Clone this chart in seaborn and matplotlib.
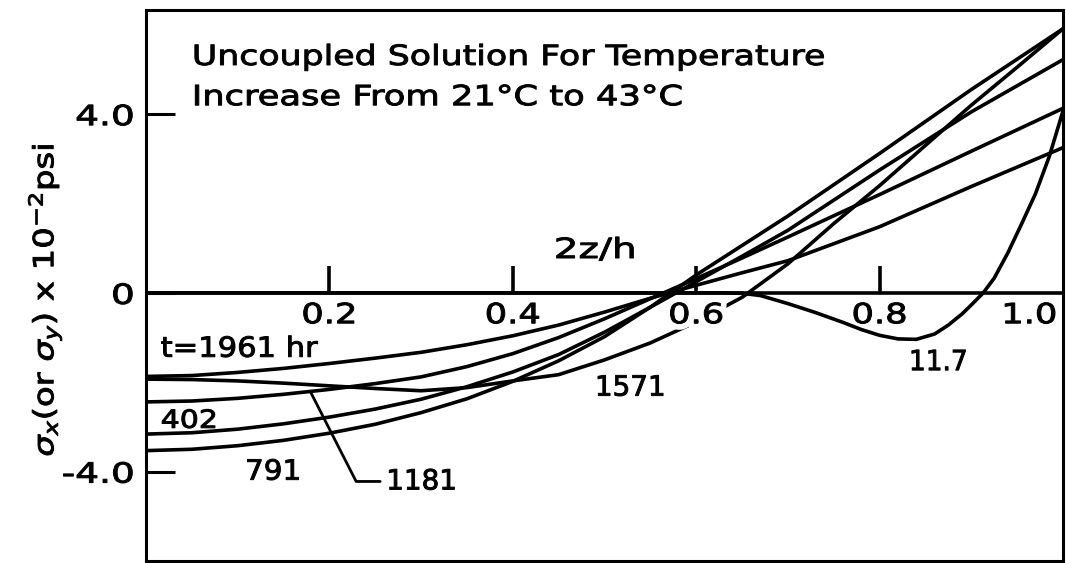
import matplotlib
matplotlib.use("Agg")
import matplotlib.pyplot as plt
import numpy as np
import pandas as pd
import seaborn as sns
from matplotlib import patheffects
from matplotlib.text import Text
from matplotlib.transforms import Affine2D

# Through-thickness stress profiles, sigma_x (x 10^-2 psi) vs 2z/h
z_11_7 = [0.0, 0.63, 0.65, 0.67, 0.70, 0.73, 0.76, 0.78, 0.80, 0.82, 0.84, 0.86, 0.875,
          0.89, 0.90, 0.913, 0.925, 0.94, 0.955, 0.97, 0.985, 1.0]
s_11_7 = [0.0, 0.0, -0.01, -0.06, -0.24, -0.44, -0.66, -0.82, -0.95, -1.03, -1.04, -0.92, -0.72,
          -0.47, -0.27, 0.0, 0.33, 0.90, 1.55, 2.22, 3.05, 4.07]

z_grid = [0.0, 0.05, 0.10, 0.15, 0.20, 0.25, 0.30, 0.35, 0.40, 0.45, 0.50, 0.55, 0.60, 0.65, 0.70, 0.80, 0.90, 1.0]
s_402 = [-3.16, -3.13, -3.05, -2.93, -2.78, -2.60, -2.38, -2.10, -1.77, -1.38, -0.88, -0.32, 0.25, 0.82, 1.40, 2.75, 4.05, 5.22]
s_791 = [-3.53, -3.50, -3.42, -3.30, -3.14, -2.94, -2.68, -2.37, -1.98, -1.52, -0.98, -0.32, 0.40, 1.06, 1.72, 3.12, 4.55, 5.91]
s_1181 = [-2.44, -2.42, -2.36, -2.27, -2.16, -2.03, -1.88, -1.65, -1.36, -1.00, -0.58, -0.13, 0.32, 0.78, 1.25, 2.20, 3.17, 4.13]
s_1961 = [-1.87, -1.85, -1.78, -1.69, -1.58, -1.46, -1.33, -1.16, -0.96, -0.72, -0.43, -0.12, 0.17, 0.45, 0.72, 1.48, 2.38, 3.25]

z_1571 = [0.0, 0.05, 0.10, 0.15, 0.20, 0.25, 0.30, 0.35, 0.40, 0.45, 0.50, 0.55, 0.60, 0.65, 0.70, 0.75, 0.80, 0.85, 0.90, 0.95, 1.0]
s_1571 = [-1.93, -1.94, -1.97, -2.02, -2.08, -2.14, -2.19, -2.12, -1.97, -1.83, -1.50, -1.12, -0.65, -0.10, 0.65, 1.55, 2.40, 3.30, 4.20, 5.05, 5.91]

curves = [
    ("11.7", z_11_7, s_11_7),
    ("402", z_grid, s_402),
    ("791", z_grid, s_791),
    ("1181", z_grid, s_1181),
    ("1571", z_1571, s_1571),
    ("1961", z_grid, s_1961),
]

xtick_vals = [0.2, 0.4, 0.6, 0.8, 1.0]
xtick_labels = ["0.2", "0.4", "0.6", "0.8", "1.0"]
ytick_vals = [-4.0, 0.0, 4.0]
ytick_labels = ["-4.0", "0", "4.0"]

df = pd.concat(
    [pd.DataFrame({"z": z, "sigma": s, "t": name}) for name, z, s in curves],
    ignore_index=True,
)


class Widen(patheffects.AbstractPathEffect):
    """Stretch a text's glyphs along its baseline and thicken their strokes
    (wide lettering-guide type), optionally with a white halo that knocks
    out the lines behind it."""

    def __init__(self, text, factor, halo=None, weight=0.7):
        super().__init__()
        self._text = text
        self._factor = factor
        self._halo = halo
        self._weight = weight

    def draw_path(self, renderer, gc, tpath, affine, rgbFace=None):
        bb = Text.get_window_extent(self._text, renderer)
        if self._text.get_rotation() % 180 == 0:
            ha = self._text.get_horizontalalignment()
            cx = {"left": bb.x0, "right": bb.x1}.get(ha, 0.5 * (bb.x0 + bb.x1))
            stretch = Affine2D().translate(-cx, 0).scale(self._factor, 1).translate(cx, 0)
        else:
            cy = 0.5 * (bb.y0 + bb.y1)
            stretch = Affine2D().translate(0, -cy).scale(1, self._factor).translate(0, cy)
        tr = affine + stretch
        if self._halo:
            gc0 = renderer.new_gc()
            gc0.copy_properties(gc)
            gc0.set_foreground("white")
            gc0.set_linewidth(self._halo)
            renderer.draw_path(gc0, tpath, tr, (1, 1, 1))
            gc0.restore()
        gc1 = renderer.new_gc()
        gc1.copy_properties(gc)
        gc1.set_foreground(rgbFace if rgbFace is not None else "black")
        gc1.set_linewidth(self._weight)
        renderer.draw_path(gc1, tpath, tr, rgbFace)
        gc1.restore()


def widen(text, factor, halo=None):
    text.set_path_effects([Widen(text, factor, halo)])
    return text


sns.set_theme(style="white")
plt.rcParams["font.family"] = ["DejaVu Sans"]
plt.rcParams["mathtext.fontset"] = "dejavusans"
for key in ("text.color", "axes.labelcolor", "xtick.color", "ytick.color", "axes.edgecolor"):
    plt.rcParams[key] = "black"

FS = 20
LW = 2.6

fig = plt.figure(figsize=(10.66, 5.63), dpi=100)
ax = fig.add_axes([146 / 1066, 2 / 563, 917 / 1066, 551 / 563])

sns.lineplot(data=df, x="z", y="sigma", units="t", estimator=None, sort=False,
             color="black", lw=LW, ax=ax, legend=False)

ax.set_xlim(0, 1.0)
ax.set_ylim(-6.0, 6.33)
for sp in ax.spines.values():
    sp.set_visible(True)
    sp.set_color("black")
    sp.set_linewidth(2.2)

# zero line acts as the 2z/h axis, with ticks pointing up
ax.axhline(0, color="black", lw=LW, zorder=3)
tick_h = 0.6
ax.vlines(xtick_vals[:-1], 0, tick_h, color="black", lw=LW, zorder=3)
for val, lbl in zip(xtick_vals, xtick_labels):
    last = val == xtick_vals[-1]
    t = ax.annotate(lbl, xy=(val, 0), xytext=(-4 if last else 0, -6),
                    textcoords="offset points", ha="right" if last else "center",
                    va="top", fontsize=FS, zorder=5)
    widen(t, 1.27, halo=9 if lbl == "0.6" else None)

ax.set_xticks([])
ax.set_xlabel("")
ax.set_ylabel("")
ax.set_yticks(ytick_vals)
ylabels = ax.set_yticklabels(ytick_labels, fontsize=FS)
for t in ylabels:
    widen(t, 1.35)
ax.tick_params(axis="y", direction="in", length=21, width=2.2, pad=8, color="black",
               labelcolor="black", left=True)

widen(ax.text(0.05, 5.1, "Uncoupled Solution For Temperature", fontsize=FS, va="baseline"), 1.25)
widen(ax.text(0.05, 4.2, "Increase From 21°C to 43°C", fontsize=FS, va="baseline"), 1.27)
widen(ax.text(0.49, 0.78, "2z/h", fontsize=FS, ha="center", va="baseline"), 1.4)

widen(ax.text(0.016, -1.43, "t=1961 hr", fontsize=FS, va="baseline"), 1.1)
widen(ax.text(0.016, -3.02, "402", fontsize=18, va="baseline"), 1.2)
widen(ax.text(0.108, -4.18, "791", fontsize=FS, va="baseline"), 1.06)
widen(ax.text(0.528, -2.12, "1571", fontsize=FS, ha="center", va="center"), 1.0)
widen(ax.text(0.864, -1.55, "11.7", fontsize=FS, ha="center", va="center"), 0.95)
widen(ax.annotate("1181", xy=(0.179, -2.2), xytext=(0.262, -4.22), fontsize=FS,
                  ha="left", va="center",
                  arrowprops=dict(arrowstyle="-", color="black", lw=2.0, relpos=(0, 0.5),
                                  shrinkA=2, shrinkB=0,
                                  connectionstyle="angle,angleA=0,angleB=-63,rad=0")), 1.0)

widen(fig.text(45 / 1066, 1 - 300 / 563, r"$\sigma_x$(or $\sigma_y$) x 10$^{-2}$psi",
               rotation=90, ha="center", va="center", fontsize=FS), 1.22)

fig.savefig("out.png", dpi=100, facecolor="white")
